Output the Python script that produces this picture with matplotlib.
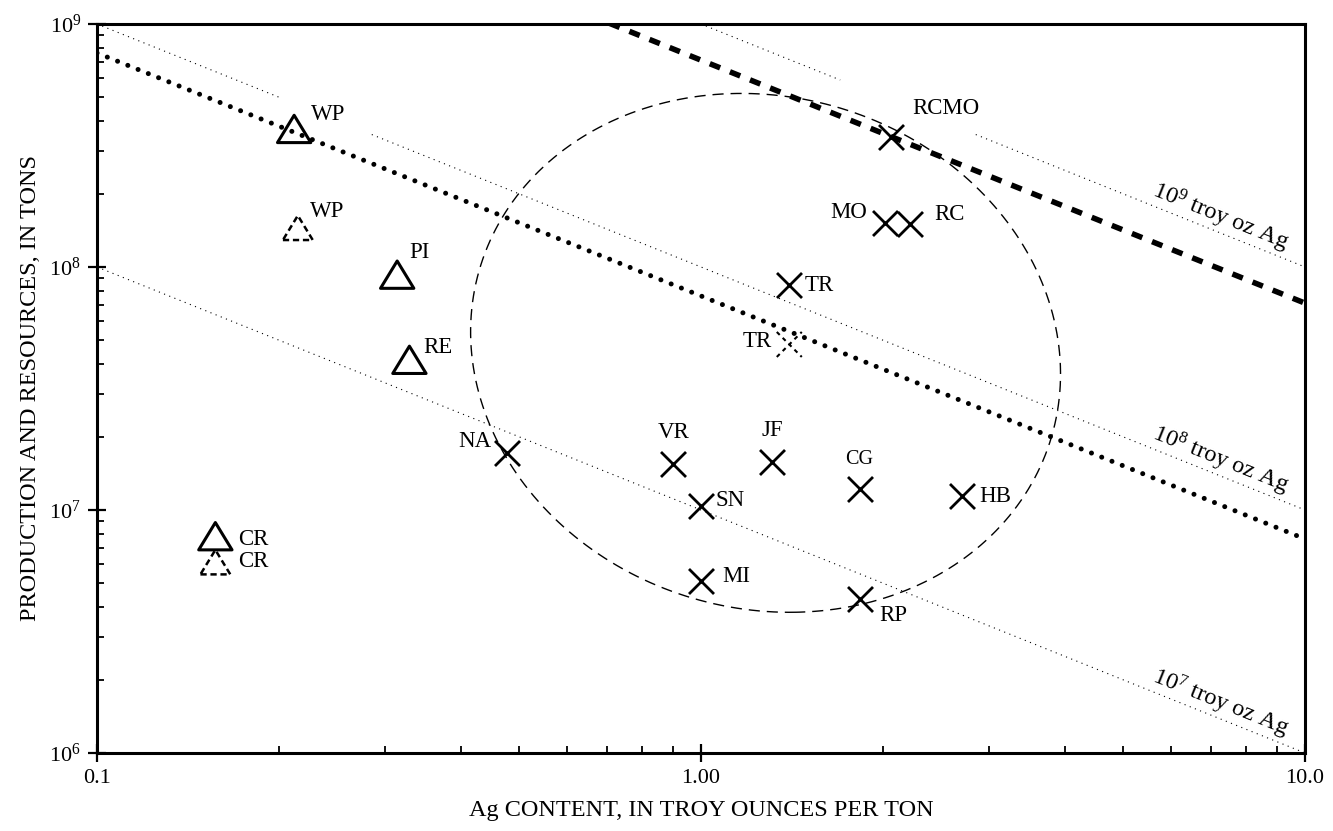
import numpy as np
import matplotlib
matplotlib.use("Agg")
import matplotlib.pyplot as plt
from matplotlib.path import Path
from matplotlib.ticker import FixedLocator, NullFormatter, LogLocator

plt.rcParams['font.family'] = ['Liberation Serif', 'DejaVu Serif']
plt.rcParams['mathtext.fontset'] = 'custom'
plt.rcParams['mathtext.rm'] = 'Liberation Serif'
plt.rcParams['mathtext.it'] = 'Liberation Serif:italic'

# deposits (x = Ag grade oz/ton, y = tons)
x_names = ['RCMO', 'MO', 'RC', 'TR', 'VR', 'JF', 'SN', 'CG', 'HB', 'MI', 'RP', 'NA']
x_grade = [2.06, 2.02, 2.22, 1.40, 0.90, 1.31, 1.00, 1.83, 2.70, 1.00, 1.83, 0.477]
x_tons = [3.43e8, 1.52e8, 1.50e8, 8.4e7, 1.55e7, 1.57e7, 1.04e7, 1.22e7, 1.14e7, 5.1e6, 4.3e6, 1.72e7]

tri_names = ['WP', 'PI', 'RE', 'CR']
tri_grade = [0.212, 0.314, 0.329, 0.157]
tri_tons = [3.7e8, 9.3e7, 4.15e7, 7.8e6]

# dashed (alternative) estimates
dtri_names = ['WP', 'CR']
dtri_grade = [0.215, 0.157]
dtri_tons = [1.45e8, 6.1e6]
dx_names = ['TR']
dx_grade = [1.40]
dx_tons = [4.8e7]

# contained-silver reference lines, troy oz
ref_oz = [1e7, 1e8, 1e9]
ref_labels = ['$10^{7}$ troy oz Ag', '$10^{8}$ troy oz Ag', '$10^{9}$ troy oz Ag']
heavy_dash_oz = 7.1e8
heavy_dot_oz = 7.6e7

# outline of the dashed field
ell_grade = [2.03, 2.93, 3.29, 3.78, 3.96, 3.75, 3.55, 3.34, 2.98, 2.58, 2.14,
             1.76, 1.46, 1.27, 0.985, 0.865, 0.726, 0.607, 0.521, 0.479, 0.444,
             0.431, 0.414, 0.431, 0.474, 0.562, 0.707, 0.923, 1.16, 1.515]
ell_tons = [3.77e8, 1.94e8, 1.38e8, 6.53e7, 3.88e7, 1.72e7, 1.33e7, 1.03e7,
            7.52e6, 5.66e6, 4.60e6, 3.95e6, 3.80e6, 3.95e6, 4.39e6, 4.82e6,
            5.83e6, 8.04e6, 1.21e7, 1.61e7, 2.13e7, 2.58e7, 4.55e7, 8.84e7,
            1.56e8, 2.63e8, 3.95e8, 5.01e8, 5.30e8, 4.96e8]

fig = plt.figure(figsize=(13.33, 8.31), dpi=100)
ax = fig.add_axes([0.0728, 0.0939, 0.9062, 0.8772])
ax.set_xscale('log')
ax.set_yscale('log')
ax.set_xlim(0.1, 10)
ax.set_ylim(1e6, 1e9)

# gaps in the thin reference lines (x ranges)
gaps = {1e8: [(0.2, 0.285)], 1e9: [(1.7, 2.85)]}
for oz in ref_oz:
    edges = [0.1]
    for a, b in gaps.get(oz, []):
        edges += [a, b]
    edges.append(10.0)
    for i in range(0, len(edges), 2):
        seg = np.array([edges[i], edges[i + 1]])
        ax.plot(seg, oz / seg, color='k', lw=0.8, ls=(0, (1, 4)))

xs = np.array([0.1, 10.0])
ax.plot(xs, heavy_dash_oz / xs, color='k', lw=4, ls=(0, (2.0, 1.9)),
        dash_capstyle='butt')
ax.plot(xs, heavy_dot_oz / xs, color='k', lw=3.6, ls=(0, (0.01, 2.2)),
        dash_capstyle='round')

# ellipse fitted (in log space) to the outline points
lx, ly = np.log10(ell_grade), np.log10(ell_tons)
mx, my = lx.mean(), ly.mean()
u, v = lx - mx, ly - my
A, B, C, D, E = np.linalg.lstsq(np.column_stack([u * u, u * v, v * v, u, v]),
                                np.ones_like(u), rcond=None)[0]
cen = np.linalg.solve([[2 * A, B], [B, 2 * C]], [-D, -E])
F = A * cen[0] ** 2 + B * cen[0] * cen[1] + C * cen[1] ** 2 + D * cen[0] + E * cen[1] - 1
w, V = np.linalg.eigh(np.array([[A, B / 2], [B / 2, C]]))
semi = np.sqrt(-F / w)
t = np.linspace(0, 2 * np.pi, 500)
pts = V @ np.vstack([semi[0] * np.cos(t), semi[1] * np.sin(t)])
ax.plot(10 ** (pts[0] + cen[0] + mx), 10 ** (pts[1] + cen[1] + my),
        color='k', lw=1.0, ls=(0, (8, 5)))

tri = Path([(-1, -0.82), (1, -0.82), (0, 0.82), (-1, -0.82)],
           [Path.MOVETO, Path.LINETO, Path.LINETO, Path.CLOSEPOLY])
ax.scatter(x_grade, x_tons, marker='x', s=18 ** 2, c='k', linewidths=2)
ax.scatter(dx_grade, dx_tons, marker='x', s=18 ** 2, c='k', linewidths=1.5,
           linestyles=(0, (2, 2)))
ax.scatter(tri_grade, tri_tons, marker=tri, s=24 ** 2, facecolors='none',
           edgecolors='k', linewidths=2.2)
ax.scatter(dtri_grade, dtri_tons, marker=tri, s=21.5 ** 2, facecolors='none',
           edgecolors='k', linewidths=1.8, linestyles=(0, (2.5, 1.5)))

FS = 16.5
lab_kw = dict(textcoords='offset pixels', va='center')
x_off = [(22, 28, 'left'), (-18, 10, 'right'), (24, 10, 'left'), (15, 0, 'left'),
         (0, 31, 'center'), (0, 32, 'center'), (14, 5, 'left'), (0, 30, 'center'),
         (18, 0, 'left'), (21, 5, 'left'), (20, -16, 'left'), (-15, 11, 'right')]
for n, gx, ty, (ox, oy, ha) in zip(x_names, x_grade, x_tons, x_off):
    fs = 14.5 if n == 'CG' else FS
    ax.annotate(n, (gx, ty), xytext=(ox, oy), ha=ha, fontsize=fs, **lab_kw)
for n, gx, ty in zip(dx_names, dx_grade, dx_tons):
    ax.annotate(n, (gx, ty), xytext=(-17, 3), ha='right', fontsize=FS, **lab_kw)
tri_off = [(17, 14), (12, 22), (14, 12), (23, -3)]
for n, gx, ty, (ox, oy) in zip(tri_names, tri_grade, tri_tons, tri_off):
    ax.annotate(n, (gx, ty), xytext=(ox, oy), ha='left', fontsize=FS, **lab_kw)
dtri_off = [(12, 16), (23, 1)]
for n, gx, ty, (ox, oy) in zip(dtri_names, dtri_grade, dtri_tons, dtri_off):
    ax.annotate(n, (gx, ty), xytext=(ox, oy), ha='left', fontsize=FS, **lab_kw)

ang = -np.degrees(np.arctan((ax.bbox.height / 3) / (ax.bbox.width / 2)))
for oz, lab in zip(ref_oz, ref_labels):
    gx = 7.1
    ax.annotate(lab, (gx, oz / gx), xytext=(0, 1), textcoords='offset pixels',
                rotation=ang, rotation_mode='anchor', ha='center', va='bottom',
                fontsize=17.5)

ax.xaxis.set_major_locator(FixedLocator([0.1, 1.0, 10.0]))
ax.set_xticklabels(['0.1', '1.00', '10.0'])
ax.yaxis.set_major_locator(FixedLocator([1e6, 1e7, 1e8, 1e9]))
ax.set_yticklabels(['$10^{6}$', '$10^{7}$', '$10^{8}$', '$10^{9}$'])
ax.xaxis.set_minor_locator(LogLocator(base=10, subs=np.arange(2, 10)))
ax.yaxis.set_minor_locator(LogLocator(base=10, subs=np.arange(2, 10)))
ax.xaxis.set_minor_formatter(NullFormatter())
ax.yaxis.set_minor_formatter(NullFormatter())
ax.tick_params(which='major', direction='inout', length=13, width=1.6,
               labelsize=16, pad=5)
ax.tick_params(which='minor', direction='in', length=5, width=1.3)
for sp in ax.spines.values():
    sp.set_linewidth(2.2)

ax.set_xlabel('Ag CONTENT, IN TROY OUNCES PER TON', fontsize=17.5, labelpad=9)
ax.set_ylabel('PRODUCTION AND RESOURCES, IN TONS', fontsize=17.5, labelpad=6)

fig.savefig('out.png', dpi=100)
